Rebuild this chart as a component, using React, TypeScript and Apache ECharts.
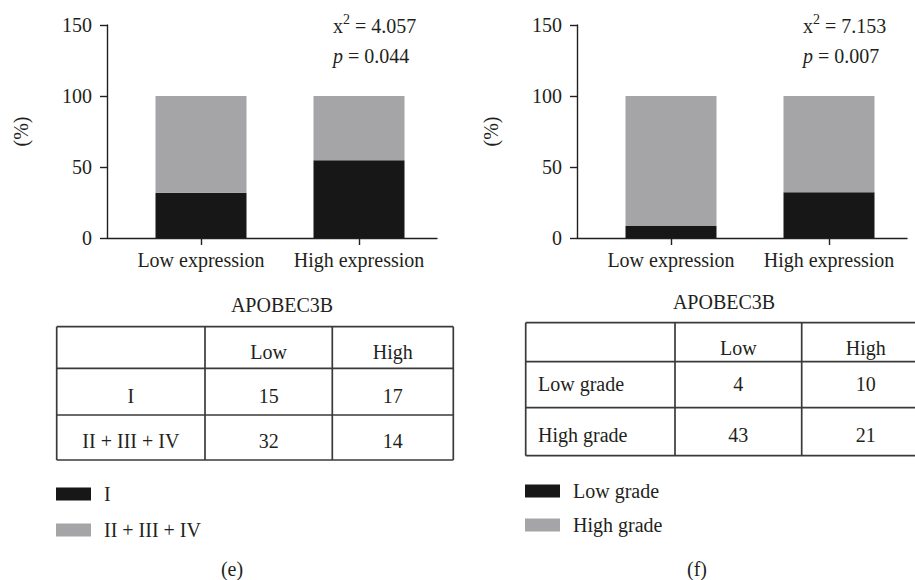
import React, { useEffect, useRef } from 'react';
import * as echarts from 'echarts';

// ---------- data ----------
const categories = ['Low expression', 'High expression'];
const yTicks = [0, 50, 100, 150];

// panel (e)
const eSeriesNames = ['I', 'II + III + IV'];
const eLowerPct = [31.9, 54.8];
const eUpperPct = [68.1, 45.2];
const eChi = '4.057';
const eP = '0.044';
const eTableHeader = ['Low', 'High'];
const eTableRowLabels = ['I', 'II + III + IV'];
const eTableLow = [15, 32];
const eTableHigh = [17, 14];

// panel (f)
const fSeriesNames = ['Low grade', 'High grade'];
const fLowerPct = [8.5, 32.3];
const fUpperPct = [91.5, 67.7];
const fChi = '7.153';
const fP = '0.007';
const fTableHeader = ['Low', 'High'];
const fTableRowLabels = ['Low grade', 'High grade'];
const fTableLow = [4, 43];
const fTableHigh = [10, 21];

const geneName = 'APOBEC3B';
const captions = ['(e)', '(f)'];

// ---------- styles ----------
const FONT = "'Liberation Serif', 'Times New Roman', serif";
const INK = '#231f20';
const BLACK = '#171717';
const GRAY = '#a5a4a7';
const FS = 20;

const axisLineStyle = { color: INK, width: 1.4 };

function panelAxes(gridBar: number, gridLine: number) {
  const x = [
    {
      gridIndex: gridBar,
      type: 'category',
      data: categories,
      axisLine: { show: false },
      axisTick: { show: true, alignWithLabel: true, length: 7, lineStyle: axisLineStyle },
      axisLabel: { interval: 0, margin: 12, fontSize: FS, fontFamily: FONT, color: INK },
      splitLine: { show: false },
    },
    {
      gridIndex: gridLine,
      type: 'value',
      min: 0,
      max: 1,
      axisLine: { show: true, onZero: false, lineStyle: axisLineStyle },
      axisTick: { show: false },
      axisLabel: { show: false },
      splitLine: { show: false },
    },
  ];
  const y = [
    {
      gridIndex: gridBar,
      type: 'value',
      min: yTicks[0],
      max: yTicks[yTicks.length - 1],
      interval: yTicks[1] - yTicks[0],
      offset: 15,
      name: '(%)',
      nameLocation: 'middle',
      nameGap: 76,
      nameTextStyle: { fontSize: FS, fontFamily: FONT, color: INK },
      axisLine: { show: true, lineStyle: axisLineStyle },
      axisTick: { show: true, length: 7, lineStyle: axisLineStyle },
      axisLabel: { margin: 15, fontSize: FS, fontFamily: FONT, color: INK },
      splitLine: { show: false },
    },
    {
      gridIndex: gridLine,
      type: 'value',
      min: yTicks[0],
      max: yTicks[yTicks.length - 1],
      show: false,
    },
  ];
  return { x, y };
}

function statText(x: number, chi: string, p: string) {
  const base = { fontSize: FS, fontFamily: FONT, fill: INK, lineHeight: 24, verticalAlign: 'bottom' };
  return [
    {
      type: 'text',
      x,
      y: 24,
      style: {
        text: `{n|x}{s|2}{n| = ${chi}}`,
        verticalAlign: 'middle',
        align: 'left',
        rich: {
          n: base,
          s: { fontSize: 14, fontFamily: FONT, fill: INK, lineHeight: 16, verticalAlign: 'top' },
        },
      },
    },
    {
      type: 'text',
      x,
      y: 54,
      style: {
        text: `{i|p}{n| = ${p}}`,
        verticalAlign: 'middle',
        align: 'left',
        rich: {
          n: base,
          i: { ...base, fontStyle: 'italic' },
        },
      },
    },
  ];
}

function tableGraphics(
  cols: number[],
  rows: number[],
  textY: number[],
  header: string[],
  rowLabels: string[],
  low: number[],
  high: number[],
  labelAlignLeft: boolean,
  labelX: number
) {
  const els: any[] = [];
  const ls = { stroke: '#3a3a3a', lineWidth: 1.7 };
  rows.forEach((ry) => {
    els.push({ type: 'line', shape: { x1: cols[0], y1: ry, x2: cols[cols.length - 1], y2: ry }, style: ls });
  });
  cols.forEach((cx) => {
    els.push({ type: 'line', shape: { x1: cx, y1: rows[0], x2: cx, y2: rows[rows.length - 1] }, style: ls });
  });
  const txt = (text: string, x: number, y: number, align: string) => ({
    type: 'text',
    x,
    y,
    style: { text, fontSize: FS, fontFamily: FONT, fill: INK, align, verticalAlign: 'middle' },
  });
  header.forEach((h, i) => {
    els.push(txt(h, (cols[i + 1] + cols[i + 2]) / 2, textY[0], 'center'));
  });
  rowLabels.forEach((r, i) => {
    const lx = labelAlignLeft ? labelX : (cols[0] + cols[1]) / 2;
    els.push(txt(r, lx, textY[i + 1], labelAlignLeft ? 'left' : 'center'));
    els.push(txt(String(low[i]), (cols[1] + cols[2]) / 2, textY[i + 1], 'center'));
    els.push(txt(String(high[i]), (cols[2] + cols[3]) / 2, textY[i + 1], 'center'));
  });
  return els;
}

export default function App() {
  const ref = useRef<HTMLDivElement>(null);

  useEffect(() => {
    document.body.style.margin = '0';
    if (!ref.current) return;
    const chart = echarts.init(ref.current, undefined, { renderer: 'svg' });

    const e = panelAxes(0, 1);
    const f = panelAxes(2, 3);

    const legendText = { fontSize: FS, fontFamily: FONT, color: INK, lineHeight: 20, padding: [0, 0, 0, 8] };

    const option: any = {
      animation: false,
      backgroundColor: '#ffffff',
      grid: [
        { left: 122, top: 25, width: 316, height: 213 },
        { left: 107, top: 25, width: 330, height: 213 },
        { left: 592, top: 25, width: 316, height: 213 },
        { left: 577, top: 25, width: 330, height: 213 },
      ],
      xAxis: [...e.x, ...f.x],
      yAxis: [...e.y, ...f.y],
      legend: [
        {
          data: eSeriesNames,
          orient: 'vertical',
          left: 56,
          top: 484,
          padding: 0,
          icon: 'rect',
          itemWidth: 35,
          itemHeight: 13,
          itemGap: 16,
          selectedMode: false,
          textStyle: legendText,
        },
        {
          data: fSeriesNames,
          orient: 'vertical',
          left: 525,
          top: 481,
          padding: 0,
          icon: 'rect',
          itemWidth: 35,
          itemHeight: 13,
          itemGap: 14,
          selectedMode: false,
          textStyle: legendText,
        },
      ],
      series: [
        {
          name: eSeriesNames[0], type: 'bar', stack: 'e', xAxisIndex: 0, yAxisIndex: 0,
          data: eLowerPct, barWidth: 91, itemStyle: { color: BLACK },
        },
        {
          name: eSeriesNames[1], type: 'bar', stack: 'e', xAxisIndex: 0, yAxisIndex: 0,
          data: eUpperPct, barWidth: 91, itemStyle: { color: GRAY },
        },
        {
          name: fSeriesNames[0], type: 'bar', stack: 'f', xAxisIndex: 2, yAxisIndex: 2,
          data: fLowerPct, barWidth: 91, itemStyle: { color: BLACK },
        },
        {
          name: fSeriesNames[1], type: 'bar', stack: 'f', xAxisIndex: 2, yAxisIndex: 2,
          data: fUpperPct, barWidth: 91, itemStyle: { color: GRAY },
        },
      ],
      graphic: [
        ...statText(333, eChi, eP),
        ...statText(803, fChi, fP),
        {
          type: 'text', x: 282, y: 305,
          style: { text: geneName, fontSize: FS, fontFamily: FONT, fill: INK, align: 'center', verticalAlign: 'middle' },
        },
        {
          type: 'text', x: 724, y: 302,
          style: { text: geneName, fontSize: FS, fontFamily: FONT, fill: INK, align: 'center', verticalAlign: 'middle' },
        },
        ...tableGraphics(
          [56.7, 205, 332.3, 453.3],
          [326.7, 368.3, 415, 460],
          [352, 395.5, 440.7],
          eTableHeader, eTableRowLabels, eTableLow, eTableHigh, false, 0
        ),
        ...tableGraphics(
          [525.7, 675, 801.7, 930],
          [322.7, 361.7, 407.7, 455.7],
          [348.3, 383.7, 435],
          fTableHeader, fTableRowLabels, fTableLow, fTableHigh, true, 538
        ),
        {
          type: 'text', x: 232, y: 569,
          style: { text: captions[0], fontSize: FS, fontFamily: FONT, fill: INK, align: 'center', verticalAlign: 'middle' },
        },
        {
          type: 'text', x: 697, y: 569,
          style: { text: captions[1], fontSize: FS, fontFamily: FONT, fill: INK, align: 'center', verticalAlign: 'middle' },
        },
      ],
    };

    chart.setOption(option);
    return () => chart.dispose();
  }, []);

  return <div ref={ref} style={{ width: 915, height: 580 }} />;
}
